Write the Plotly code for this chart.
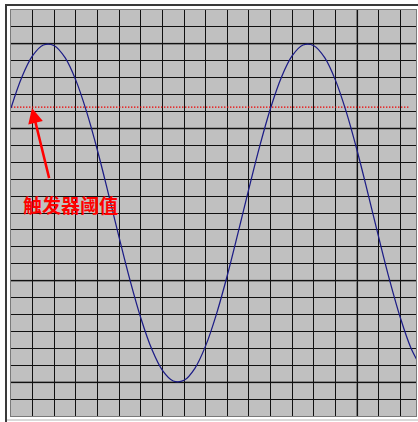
import plotly.graph_objects as go

# --- data (grid units: 1 unit = 1 grid cell) ---
wave_x = [0, 0.5, 1.0, 1.5, 2.0, 2.5, 3.0, 3.5, 4.0, 4.5, 5.0, 5.5, 6.0, 6.5, 7.0, 7.5,
          8.0, 8.5, 9.0, 9.5, 10.0, 10.5, 11.0, 11.5, 12.0, 12.5, 13.0, 13.5, 14.0, 14.5,
          15.0, 15.5, 16.0, 16.5, 17.0, 17.5, 18.0, 18.5, 18.75]
wave_y = [6.21, 8.03, 9.30, 9.93, 9.89, 9.18, 7.84, 5.96, 3.68, 1.15, -1.46, -3.97, -6.21,
          -8.03, -9.30, -9.93, -9.89, -9.18, -7.84, -5.96, -3.68, -1.15, 1.46, 3.97, 6.21,
          8.03, 9.30, 9.93, 9.89, 9.18, 7.84, 5.96, 3.68, 1.15, -1.46, -3.97, -6.21, -8.03,
          -8.65]

threshold_x = [0, 18.4]
threshold_y = [6.26, 6.26]

arrow_tip = (0.97, 6.2)
arrow_tail = (1.78, 1.97)
label_text = "触发器阈值"
label_pos = (2.73, 0.49)

x_range = [0, 18.72]
y_range = [-12, 12]
thick_rows = [10, 5, -4, -10]
thick_cols = [16]

fig = go.Figure()

fig.add_trace(go.Scatter(
    x=threshold_x, y=threshold_y, mode="lines",
    line=dict(color="#ee0000", width=1.4, dash="1.4px,1.6px"),
    hoverinfo="skip", showlegend=False))

fig.add_trace(go.Scatter(
    x=wave_x, y=wave_y, mode="lines",
    line=dict(color="#1c1c86", width=1.25, shape="spline", smoothing=1.0),
    hoverinfo="skip", showlegend=False))

shapes = []
for r in thick_rows:
    shapes.append(dict(type="line", xref="paper", yref="y", x0=0, x1=1, y0=r, y1=r,
                       line=dict(color="#6e6e6e", width=2), layer="between"))
for c in thick_cols:
    shapes.append(dict(type="line", xref="x", yref="paper", x0=c, x1=c, y0=0, y1=1,
                       line=dict(color="#6e6e6e", width=2), layer="between"))

# outer frame (pixel offsets from the plot area corners)
shapes.append(dict(type="line", xref="paper", yref="paper", xsizemode="pixel", ysizemode="pixel",
                   xanchor=0, yanchor=1, x0=-5, x1=-5, y0=5, y1=-412,
                   line=dict(color="#3a3a3a", width=2), layer="above"))
shapes.append(dict(type="line", xref="paper", yref="paper", xsizemode="pixel", ysizemode="pixel",
                   xanchor=0, yanchor=1, x0=-6, x1=420, y0=5, y1=5,
                   line=dict(color="#3a3a3a", width=2), layer="above"))
shapes.append(dict(type="line", xref="paper", yref="paper", xsizemode="pixel", ysizemode="pixel",
                   xanchor=0, yanchor=0, x0=-4, x1=420, y0=-4, y1=-4,
                   line=dict(color="#b4b4b4", width=1), layer="above"))

annotations = [
    dict(x=arrow_tip[0], y=arrow_tip[1], xref="x", yref="y",
         ax=arrow_tail[0], ay=arrow_tail[1], axref="x", ayref="y",
         text="", showarrow=True, arrowhead=2, arrowsize=1.2, arrowwidth=2.5,
         arrowcolor="#ff0000", standoff=0, startstandoff=0),
    dict(x=label_pos[0], y=label_pos[1], xref="x", yref="y", text=label_text,
         showarrow=False, xanchor="center", yanchor="middle",
         font=dict(family="Noto Sans CJK SC", size=19, color="#ff0000", weight="bold")),
]

axis_common = dict(showticklabels=False, ticks="", zeroline=False, showgrid=True,
                   gridcolor="#111111", gridwidth=1, dtick=1, tick0=0,
                   showline=True, mirror=True, linecolor="#7a7a7a", linewidth=1,
                   fixedrange=True)

fig.update_layout(
    width=418, height=422, autosize=False,
    margin=dict(l=11, r=2, t=10, b=6, pad=0),
    paper_bgcolor="#ffffff", plot_bgcolor="#c0c0c0",
    xaxis=dict(range=x_range, **axis_common),
    yaxis=dict(range=y_range, **axis_common),
    shapes=shapes, annotations=annotations, showlegend=False,
)

fig.write_html("out.html", config={"displayModeBar": False},
               post_script="document.body.style.margin='0';document.body.style.overflow='hidden';")
